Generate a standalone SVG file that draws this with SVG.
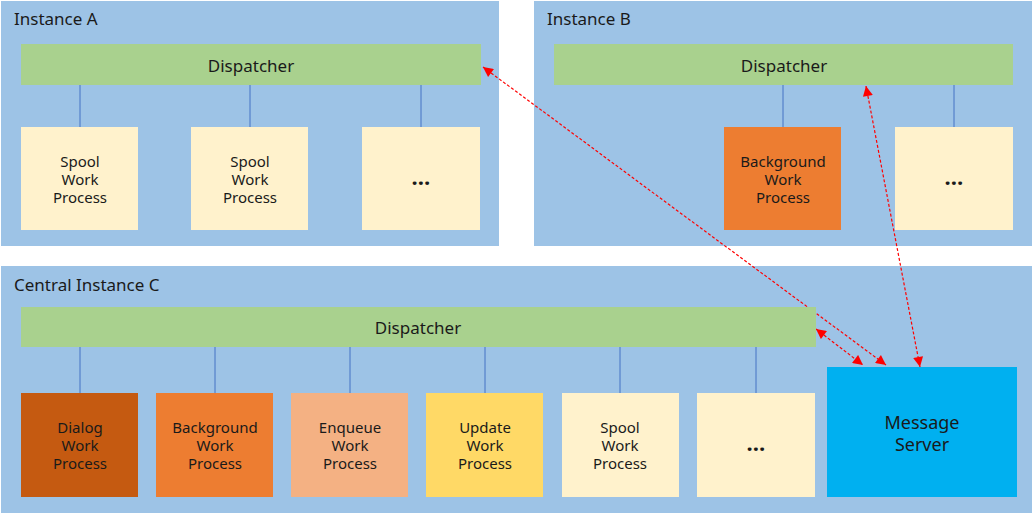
<svg xmlns="http://www.w3.org/2000/svg" width="1032" height="513" viewBox="0 0 1032 513">
<defs>
<style>
.panel{fill:#9DC3E6}
.disp{fill:#A9D18E}
.spool{fill:#FFF2CC}
.bg{fill:#ED7D31}
.dialog{fill:#C55A11}
.enq{fill:#F4B183}
.upd{fill:#FFD966}
.ms{fill:#00B0F0}
.t{font-family:"Noto Sans","Open Sans",sans-serif;fill:#1a1a1a}
.title{font-size:17px}
.dt{font-size:17px;text-anchor:middle}
.bt{font-size:15px;text-anchor:middle}
.el{font-size:22px;text-anchor:middle;font-weight:bold}
.mt{font-size:18px;text-anchor:middle}
.link{stroke:#4472C4;stroke-width:1}
.arrow{stroke:#FF0000;stroke-width:1.2;stroke-dasharray:3 2;fill:none}
</style>
<marker id="ah" viewBox="0 0 10 10" refX="10" refY="5" markerWidth="11" markerHeight="10" markerUnits="userSpaceOnUse" orient="auto-start-reverse">
<path d="M0,0 L10,5 L0,10 Z" fill="#FF0000"/>
</marker>
</defs>
<rect width="1032" height="513" fill="#FFFFFF"/>

<g id="instanceA">
<rect class="panel" x="1" y="1" width="498" height="245"/>
<text class="t title" x="14" y="25">Instance A</text>
</g>
<g id="instanceB">
<rect class="panel" x="534" y="1" width="498" height="245"/>
<text class="t title" x="547" y="25">Instance B</text>
</g>
<g id="instanceC">
<rect class="panel" x="1" y="266" width="1031" height="247"/>
<text class="t title" x="14" y="291">Central Instance C</text>
</g>

<g id="connectors">
<line class="link" x1="80" y1="85" x2="80" y2="127"/>
<line class="link" x1="250" y1="85" x2="250" y2="127"/>
<line class="link" x1="421" y1="85" x2="421" y2="127"/>
<line class="link" x1="783" y1="85" x2="783" y2="127"/>
<line class="link" x1="954" y1="85" x2="954" y2="127"/>
<line class="link" x1="80" y1="347" x2="80" y2="393"/>
<line class="link" x1="215" y1="347" x2="215" y2="393"/>
<line class="link" x1="350" y1="347" x2="350" y2="393"/>
<line class="link" x1="485" y1="347" x2="485" y2="393"/>
<line class="link" x1="620" y1="347" x2="620" y2="393"/>
<line class="link" x1="756" y1="347" x2="756" y2="393"/>
<line class="arrow" x1="483" y1="67" x2="886" y2="365" marker-start="url(#ah)" marker-end="url(#ah)"/>
<line class="arrow" x1="816" y1="329" x2="863" y2="365" marker-start="url(#ah)" marker-end="url(#ah)"/>
<line class="arrow" x1="866" y1="86" x2="920" y2="367" marker-start="url(#ah)" marker-end="url(#ah)"/>
</g>

<g id="dispatcherA">
<rect class="disp" x="21" y="44" width="460" height="41"/>
<text class="t dt" x="251" y="72">Dispatcher</text>
</g>
<g id="spoolA1">
<rect class="spool" x="21" y="127" width="117" height="103"/>
<text class="t bt" x="80" y="167">Spool</text>
<text class="t bt" x="80" y="185">Work</text>
<text class="t bt" x="80" y="203">Process</text>
</g>
<g id="spoolA2">
<rect class="spool" x="191" y="127" width="117" height="103"/>
<text class="t bt" x="250" y="167">Spool</text>
<text class="t bt" x="250" y="185">Work</text>
<text class="t bt" x="250" y="203">Process</text>
</g>
<g id="moreA">
<rect class="spool" x="362" y="127" width="118" height="103"/>
<text class="t el" x="421" y="185">…</text>
</g>

<g id="dispatcherB">
<rect class="disp" x="554" y="44" width="459" height="41"/>
<text class="t dt" x="784" y="72">Dispatcher</text>
</g>
<g id="backgroundB">
<rect class="bg" x="724" y="127" width="117" height="103"/>
<text class="t bt" x="783" y="167">Background</text>
<text class="t bt" x="783" y="185">Work</text>
<text class="t bt" x="783" y="203">Process</text>
</g>
<g id="moreB">
<rect class="spool" x="895" y="127" width="118" height="103"/>
<text class="t el" x="954" y="185">…</text>
</g>

<g id="dispatcherC">
<rect class="disp" x="21" y="307" width="795" height="40"/>
<text class="t dt" x="418" y="334">Dispatcher</text>
</g>
<g id="dialogC">
<rect class="dialog" x="21" y="393" width="117" height="104"/>
<text class="t bt" x="80" y="433">Dialog</text>
<text class="t bt" x="80" y="451">Work</text>
<text class="t bt" x="80" y="469">Process</text>
</g>
<g id="backgroundC">
<rect class="bg" x="156" y="393" width="117" height="104"/>
<text class="t bt" x="215" y="433">Background</text>
<text class="t bt" x="215" y="451">Work</text>
<text class="t bt" x="215" y="469">Process</text>
</g>
<g id="enqueueC">
<rect class="enq" x="291" y="393" width="117" height="104"/>
<text class="t bt" x="350" y="433">Enqueue</text>
<text class="t bt" x="350" y="451">Work</text>
<text class="t bt" x="350" y="469">Process</text>
</g>
<g id="updateC">
<rect class="upd" x="426" y="393" width="117" height="104"/>
<text class="t bt" x="485" y="433">Update</text>
<text class="t bt" x="485" y="451">Work</text>
<text class="t bt" x="485" y="469">Process</text>
</g>
<g id="spoolC">
<rect class="spool" x="562" y="393" width="117" height="104"/>
<text class="t bt" x="620" y="433">Spool</text>
<text class="t bt" x="620" y="451">Work</text>
<text class="t bt" x="620" y="469">Process</text>
</g>
<g id="moreC">
<rect class="spool" x="697" y="393" width="118" height="104"/>
<text class="t el" x="756" y="451">…</text>
</g>
<g id="messageServer">
<rect class="ms" x="827" y="367" width="190" height="130"/>
<text class="t mt" x="922" y="429">Message</text>
<text class="t mt" x="922" y="451">Server</text>
</g>
</svg>
